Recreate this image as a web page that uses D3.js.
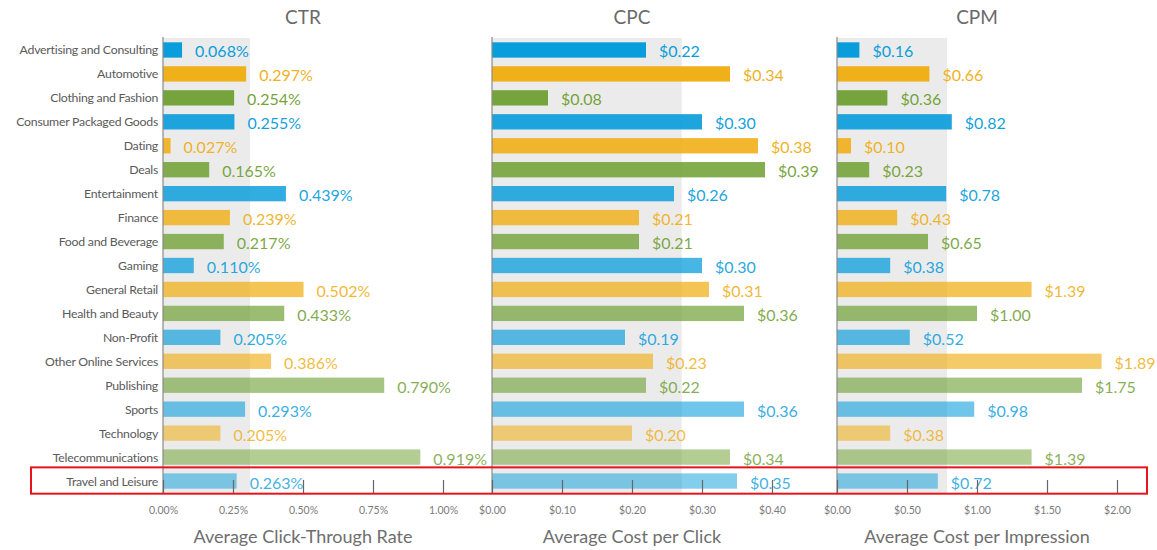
<!DOCTYPE html>
<html>
<head>
<meta charset="utf-8">
<script src="https://cdn.jsdelivr.net/npm/d3@7"></script>
<style>
  html, body { margin: 0; padding: 0; background: #fff; }
  svg text { font-family: Lato, "Open Sans", sans-serif; }
</style>
</head>
<body>
<svg id="chart" width="1157" height="550"></svg>
<script>
// Industry benchmark data
const categories = [
  "Advertising and Consulting", "Automotive", "Clothing and Fashion",
  "Consumer Packaged Goods", "Dating", "Deals", "Entertainment", "Finance",
  "Food and Beverage", "Gaming", "General Retail", "Health and Beauty",
  "Non-Profit", "Other Online Services", "Publishing", "Sports",
  "Technology", "Telecommunications", "Travel and Leisure"
];
const ctr = [0.068, 0.297, 0.254, 0.255, 0.027, 0.165, 0.439, 0.239, 0.217, 0.110,
             0.502, 0.433, 0.205, 0.386, 0.790, 0.293, 0.205, 0.919, 0.263];
const cpc = [0.22, 0.34, 0.08, 0.30, 0.38, 0.39, 0.26, 0.21, 0.21, 0.30,
             0.31, 0.36, 0.19, 0.23, 0.22, 0.36, 0.20, 0.34, 0.35];
const cpm = [0.16, 0.66, 0.36, 0.82, 0.10, 0.23, 0.78, 0.43, 0.65, 0.38,
             1.39, 1.00, 0.52, 1.89, 1.75, 0.98, 0.38, 1.39, 0.72];
// shaded average band for each metric
const averages = { ctr: 0.311, cpc: 0.271, cpm: 0.786 };
const ctrTicks = [0, 0.25, 0.5, 0.75, 1.0];
const cpcTicks = [0, 0.1, 0.2, 0.3, 0.4];
const cpmTicks = [0, 0.5, 1.0, 1.5, 2.0];
const highlighted = "Travel and Leisure";

const palette = ["#0a9ddb", "#f0ae14", "#6fa032"];

const panels = [
  { key: "ctr", title: "CTR", axisTitle: "Average Click-Through Rate", values: ctr,
    ticks: ctrTicks, domain: [0, 1], x0: 163, x1: 443,
    tickFmt: d => d.toFixed(2) + "%", valFmt: d => d.toFixed(3) + "%" },
  { key: "cpc", title: "CPC", axisTitle: "Average Cost per Click", values: cpc,
    ticks: cpcTicks, domain: [0, 0.4], x0: 492, x1: 772,
    tickFmt: d => "$" + d.toFixed(2), valFmt: d => "$" + d.toFixed(2) },
  { key: "cpm", title: "CPM", axisTitle: "Average Cost per Impression", values: cpm,
    ticks: cpmTicks, domain: [0, 2], x0: 837, x1: 1117,
    tickFmt: d => "$" + d.toFixed(2), valFmt: d => "$" + d.toFixed(2) }
];

const svg = d3.select("#chart");
const plotTop = 38, plotBottom = 493;
const y = d3.scaleBand().domain(categories).range([plotTop, plotBottom]).paddingInner(0.36).paddingOuter(0.18);
const opacity = d3.scaleLinear().domain([0, categories.length - 1]).range([1, 0.5]);

// category labels
svg.append("g").selectAll("text").data(categories).join("text")
  .attr("x", 158).attr("y", d => y(d) + y.bandwidth() / 2)
  .attr("text-anchor", "end").attr("dominant-baseline", "central")
  .attr("font-size", 12.3).attr("fill", "#5a5a5a").attr("letter-spacing", -0.25)
  .text(d => d);

panels.forEach(p => {
  const x = d3.scaleLinear().domain(p.domain).range([p.x0, p.x1]);
  const g = svg.append("g");

  // average band
  g.append("rect").attr("x", x(0)).attr("y", plotTop)
    .attr("width", x(averages[p.key]) - x(0)).attr("height", plotBottom - plotTop)
    .attr("fill", "#ebebeb");

  // bars
  g.selectAll("rect.bar").data(p.values).join("rect").attr("class", "bar")
    .attr("x", x(0)).attr("y", (d, i) => y(categories[i]))
    .attr("width", d => x(d) - x(0)).attr("height", y.bandwidth())
    .attr("fill", (d, i) => palette[i % 3])
    .attr("fill-opacity", (d, i) => opacity(i));

  // value labels
  g.selectAll("text.val").data(p.values).join("text").attr("class", "val")
    .attr("x", d => x(d) + 13).attr("y", (d, i) => y(categories[i]) + y.bandwidth() / 2 + 1)
    .attr("dominant-baseline", "central").attr("font-size", 16)
    .attr("fill", (d, i) => palette[i % 3]).attr("fill-opacity", (d, i) => 0.6 + 0.4 * opacity(i))
    .text(p.valFmt);

  // vertical baseline
  g.append("line").attr("x1", x(0)).attr("x2", x(0)).attr("y1", plotTop - 1).attr("y2", plotBottom)
    .attr("stroke", "#8a8a8a").attr("stroke-width", 1.2);

  // bottom axis: ticks point upward, no domain line
  const axis = d3.axisBottom(x).tickValues(p.ticks).tickFormat(p.tickFmt).tickSizeInner(-13).tickSizeOuter(0).tickPadding(14);
  const ag = g.append("g").attr("transform", `translate(0,${plotBottom})`).call(axis);
  ag.select(".domain").remove();
  ag.selectAll(".tick line").attr("stroke", "#666").attr("stroke-width", 1.2);
  ag.selectAll(".tick text").attr("font-size", 10.5).attr("fill", "#7a7a7a")
    .attr("font-family", "Lato, sans-serif");

  // panel title
  svg.append("text").attr("x", (p.x0 + p.x1) / 2).attr("y", 24)
    .attr("text-anchor", "middle").attr("font-size", 19).attr("fill", "#6a6a6a").text(p.title);

  // axis title
  svg.append("text").attr("x", (p.x0 + p.x1) / 2).attr("y", 543)
    .attr("text-anchor", "middle").attr("font-size", 18).attr("fill", "#6e6e6e").text(p.axisTitle);
});

// highlight box around the selected category
const hy = y(highlighted);
svg.append("rect").attr("x", 31).attr("y", hy - 6).attr("width", 1116).attr("height", y.bandwidth() + 11)
  .attr("fill", "none").attr("stroke", "#e8141c").attr("stroke-width", 2);
</script>
</body>
</html>
